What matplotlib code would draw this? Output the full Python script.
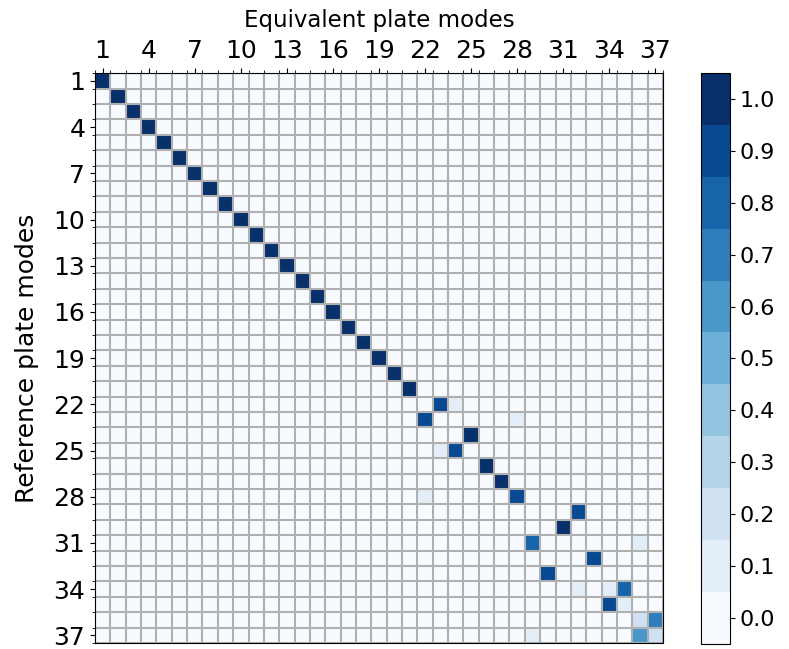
import numpy as np
import matplotlib
matplotlib.use("Agg")
import matplotlib.pyplot as plt

n_modes = 37

# Diagonal MAC values (reference mode i vs equivalent mode i)
diag_values = [1.0] * 21 + [0.0] * 16

# Remaining correlations (1-based reference row, equivalent column, MAC)
pair_rows = [22, 22, 23, 23, 24, 25, 25, 26, 27, 28, 28, 29, 30, 31, 31, 32, 33,
             34, 34, 34, 35, 35, 36, 36, 37, 37, 37]
pair_cols = [23, 24, 22, 28, 25, 23, 24, 26, 27, 22, 28, 32, 31, 29, 36, 33, 30,
             32, 34, 35, 34, 35, 36, 37, 29, 36, 37]
pair_vals = [0.9, 0.1, 0.9, 0.1, 1.0, 0.1, 0.9, 1.0, 1.0, 0.1, 0.9, 0.9, 1.0, 0.8, 0.1, 0.9, 0.9,
             0.1, 0.1, 0.8, 0.9, 0.1, 0.2, 0.7, 0.1, 0.6, 0.2]

tick_labels = [str(k) for k in range(1, n_modes + 1, 3)]
cbar_ticks = [round(0.1 * k, 1) for k in range(11)]

mac = np.zeros((n_modes, n_modes))
mac[np.arange(n_modes), np.arange(n_modes)] = diag_values
for r, c, v in zip(pair_rows, pair_cols, pair_vals):
    mac[r - 1, c - 1] = v

fig = plt.figure(figsize=(7.89, 6.49), dpi=100)
ax = fig.add_axes([0.1204, 0.0092, 0.7199, 0.878])
cax = fig.add_axes([0.888, 0.0077, 0.0368, 0.880])

cmap = plt.get_cmap("Blues", 11)
im = ax.imshow(mac, cmap=cmap, vmin=-0.05, vmax=1.05, aspect="auto", interpolation="nearest")

major = np.arange(0, n_modes, 3)
ax.set_xticks(major)
ax.set_yticks(major)
ax.set_xticklabels(tick_labels, fontsize=18)
ax.set_yticklabels(tick_labels, fontsize=18)
ax.set_xticks(np.arange(-0.5, n_modes, 1), minor=True)
ax.set_yticks(np.arange(-0.5, n_modes, 1), minor=True)
ax.grid(which="minor", color="#b0b0b0", linewidth=1.5)
ax.grid(which="major", visible=False)
ax.tick_params(which="minor", length=2)
ax.xaxis.tick_top()
ax.xaxis.set_label_position("top")
ax.set_xlabel("Equivalent plate modes", fontsize=16.5, labelpad=9)
ax.set_ylabel("Reference plate modes", fontsize=18, labelpad=10)
ax.set_xlim(-0.5, n_modes - 0.5)
ax.set_ylim(n_modes - 0.5, -0.5)

cb = fig.colorbar(im, cax=cax, ticks=cbar_ticks)
cb.ax.tick_params(labelsize=16)
cb.ax.set_yticklabels([f"{t:.1f}" for t in cbar_ticks])

fig.savefig("out.png", dpi=100)
